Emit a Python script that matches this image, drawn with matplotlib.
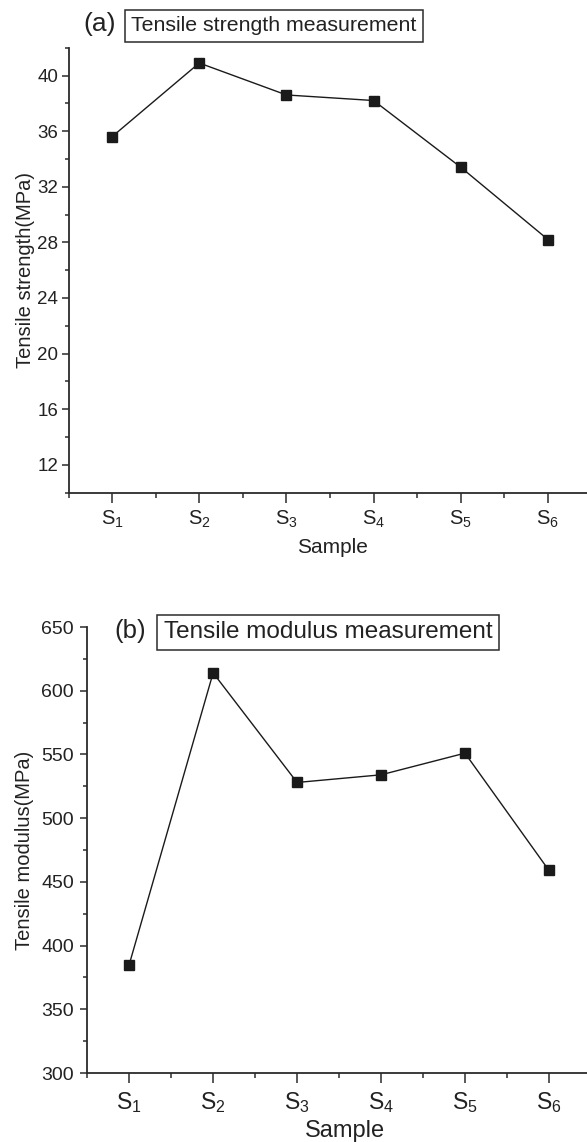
import numpy as np
import matplotlib
matplotlib.use("Agg")
import matplotlib.pyplot as plt
from matplotlib.ticker import MultipleLocator

plt.rcParams['font.family'] = ['Liberation Sans', 'DejaVu Sans']
plt.rcParams['mathtext.fontset'] = 'custom'
plt.rcParams['mathtext.rm'] = 'Liberation Sans'
plt.rcParams['mathtext.default'] = 'regular'

# data
samples = ['S$_1$', 'S$_2$', 'S$_3$', 'S$_4$', 'S$_5$', 'S$_6$']
strength = [35.6, 40.9, 38.6, 38.2, 33.4, 28.2]      # MPa
modulus = [385, 614, 528, 534, 551, 459]             # MPa

LINE = '#1a1a1a'
AXC = '#2b2b2b'
TXT = '#222222'

fig = plt.figure(figsize=(5.87, 11.42), dpi=100)
W, H = 587, 1142

def px_axes(left, top, right, bottom):
    return fig.add_axes([left / W, 1 - bottom / H, (right - left) / W, (bottom - top) / H])

def style(ax, fs_y, fs_x, ypad, xpad):
    for s in ('top', 'right'):
        ax.spines[s].set_visible(False)
    for s in ('left', 'bottom'):
        ax.spines[s].set_color(AXC)
        ax.spines[s].set_linewidth(1.3)
    ax.tick_params(axis='y', which='major', length=5, width=1.1, color=AXC,
                   labelsize=fs_y, pad=ypad, labelcolor=TXT)
    ax.tick_params(axis='y', which='minor', length=3, width=1.1, color=AXC)
    ax.tick_params(axis='x', which='major', length=7, width=1.1, color=AXC,
                   labelsize=fs_x, pad=xpad, labelcolor=TXT)
    ax.tick_params(axis='x', which='minor', length=3.5, width=1.1, color=AXC)
    ax.set_xlim(0.5, 6.5)
    ax.set_xticks(range(1, 7))
    ax.set_xticklabels(samples)
    ax.set_xticks(np.arange(0.5, 6.6, 1.0), minor=True)

x = np.arange(1, 7)

# (a) tensile strength
ax1 = px_axes(68.5, 47.7, 591.5, 492.5)
ax1.plot(x, strength, color=LINE, lw=1.0, marker='s', ms=7.5,
         mfc=LINE, mec=LINE, clip_on=False)
ax1.set_ylim(10, 42)
ax1.set_yticks(np.arange(12, 41, 4))
ax1.yaxis.set_minor_locator(MultipleLocator(2))
style(ax1, 13.5, 14.5, 2.5, 4.5)
ax1.set_ylabel('Tensile strength(MPa)', fontsize=14.5, color=TXT)
ax1.yaxis.set_label_coords(-0.083, 0.5)
ax1.set_xlabel('Sample', fontsize=15, color=TXT)
ax1.xaxis.set_label_coords(0.504, -0.123)
ax1.xaxis.label.set_va('center')
ax1.yaxis.label.set_va('center')

fig.text(83 / W, 1 - 24 / H, '(a)', fontsize=19, ha='left', va='center', color=TXT)
fig.text(274 / W, 1 - 25.7 / H, 'Tensile strength measurement', fontsize=15.3,
         ha='center', va='center', color=TXT,
         bbox=dict(boxstyle='square,pad=0.3', fc='white', ec=AXC, lw=1.1))

# (b) tensile modulus
ax2 = px_axes(87.2, 627, 590.9, 1073)
ax2.plot(x, modulus, color=LINE, lw=1.0, marker='s', ms=7.5,
         mfc=LINE, mec=LINE, clip_on=False)
ax2.set_ylim(300, 650)
ax2.set_yticks(np.arange(300, 651, 50))
ax2.yaxis.set_minor_locator(MultipleLocator(25))
style(ax2, 14, 16.5, 4.5, 5)
ax2.set_ylabel('Tensile modulus(MPa)', fontsize=14.5, color=TXT)
ax2.yaxis.set_label_coords(-0.124, 0.5)
ax2.set_xlabel('Sample', fontsize=17, color=TXT)
ax2.xaxis.set_label_coords(0.5115, -0.13)
ax2.xaxis.label.set_va('center')
ax2.yaxis.label.set_va('center')

fig.text(114 / W, 1 - 631 / H, '(b)', fontsize=18.5, ha='left', va='center', color=TXT)
fig.text(328 / W, 1 - 632.5 / H, 'Tensile modulus measurement', fontsize=17.5,
         ha='center', va='center', color=TXT,
         bbox=dict(boxstyle='square,pad=0.27', fc='white', ec=AXC, lw=1.1))

fig.savefig('out.png', dpi=100)
